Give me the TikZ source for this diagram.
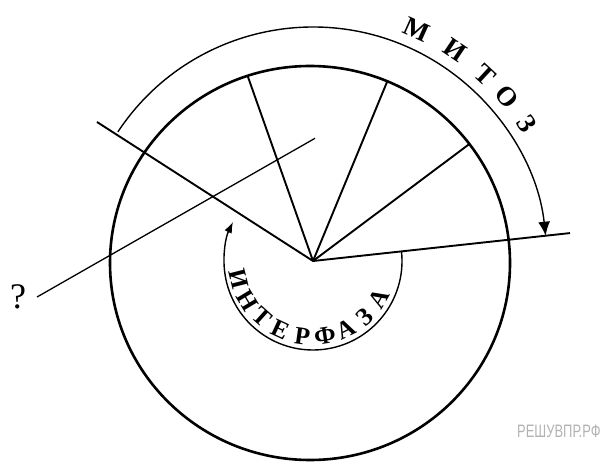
\documentclass[tikz,border=0pt]{standalone}
\usepackage{fontspec}
\setmainfont{Liberation Serif}
\newfontfamily\wmfont{Liberation Sans}
\usetikzlibrary{arrows.meta,calc}
\begin{document}
\begin{tikzpicture}[x=1pt,y=1pt,
  cell/.style={line width=2.6pt},
  spoke/.style={line width=1.9pt},
  thinline/.style={line width=1.3pt},
  arcline/.style={line width=1.4pt},
  ilett/.style={inner sep=0pt, font=\fontsize{25}{25}\selectfont\bfseries},
  mlett/.style={inner sep=0pt, font=\fontsize{27}{27}\selectfont\bfseries},
  qmark/.style={inner sep=0pt, font=\fontsize{36}{36}\selectfont},
  wmark/.style={inner sep=0pt, text=black!30, font=\wmfont\fontsize{18}{18}\selectfont},
]
\useasboundingbox (0,0) rectangle (612,463);
\coordinate (hub) at (313,202);
\coordinate (cc) at (310,200);
% cell
\draw[cell] (cc) ellipse [x radius=200, y radius=197];
% spokes
\coordinate (ul) at (97,341);
\coordinate (s2) at (247.6,387.2);
\coordinate (s3) at (387.3,381.7);
\coordinate (s4) at (469.4,319);
\coordinate (rt) at ($(hub)+(6.2:258.5)$);
\draw[spoke] (ul) -- (hub) -- (rt);
\draw[spoke] (hub) -- (s2);
\draw[spoke] (hub) -- (s3);
\draw[spoke] (hub) -- (s4);
% question line
\node[qmark] (q) at (18,166) {?};
\coordinate (qa) at (37,166);
\coordinate (qb) at (315,324.7);
\draw[thinline] (qa) -- (qb);
% mitosis arc
\coordinate (mstart) at ($(hub)+(146.5:234)$);
\draw[arcline,-{Latex[length=14pt,width=12pt]}] (mstart) arc[start angle=146.5,end angle=6.2,radius=234];
% interphase arc
\coordinate (istart) at ($(hub)+(6.2:89)$);
\draw[arcline,-{Latex[length=11pt,width=8pt]}] (istart) arc[start angle=6.2,end angle=-206,radius=89];
% interphase letters
\foreach \l [count=\k from 0] in {И,Н,Т,Е,Р,Ф,А,З,А} {
  \pgfmathsetmacro\a{194+17*\k}
  \pgfmathsetmacro\b{\a+90}
  \node[ilett, rotate=\b] (i\k) at ($(hub)+(\a:76)$) {\l};
}
% mitosis letters
\foreach \a/\l [count=\k] in {65.8/М,56/И,47.2/Т,40.2/О,32.7/З} {
  \pgfmathsetmacro\b{\a-90}
  \node[mlett, rotate=\b] (m\k) at ($(hub)+(\a:254)$) {\l};
}
% watermark
\node[wmark, anchor=west, xscale=0.72] (wm) at (517,32) {РЕШУВПР.РФ};
\end{tikzpicture}
\end{document}
